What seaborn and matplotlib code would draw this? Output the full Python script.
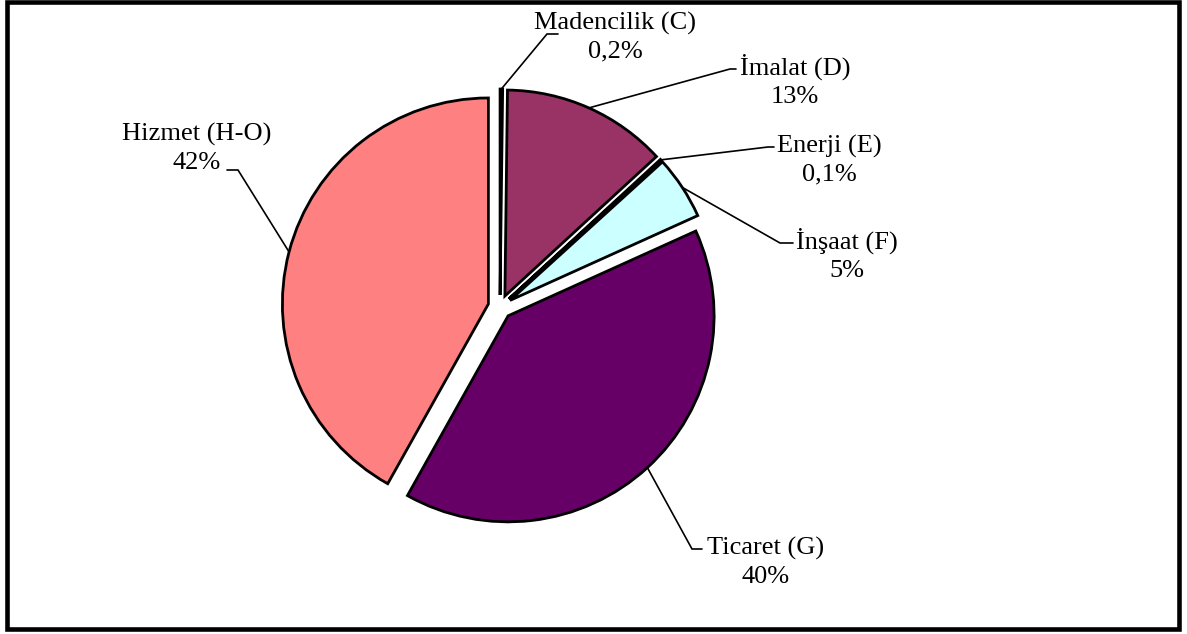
import math
import matplotlib
matplotlib.use("Agg")
import matplotlib.pyplot as plt
import matplotlib.patches as mpatches
import seaborn as sns

# Sector shares (%), drawn clockwise from 12 o'clock
sectors = ["Madencilik (C)", "İmalat (D)", "Enerji (E)", "İnşaat (F)", "Ticaret (G)", "Hizmet (H-O)"]
shares = [0.2, 13, 0.1, 5, 40, 42]
sector_colors = ["#9999FF", "#993366", "#FFFFCC", "#CCFFFF", "#660066", "#FF8080"]

W, H = 1187, 634

sns.set_theme(style="white")
plt.rcParams["font.family"] = ["Liberation Serif", "DejaVu Serif"]

fig = plt.figure(figsize=(W / 100, H / 100), dpi=100)
ax = fig.add_axes([0, 0, 1, 1])


def Y(y):
    """Convert a top-down pixel row into the axes' y coordinate."""
    return H - y


radius = 206
center = (500, Y(307))
wedges, _ = ax.pie(
    shares,
    colors=sns.color_palette(sector_colors),
    startangle=90,
    counterclock=False,
    radius=radius,
    center=center,
    explode=[12] * len(shares),
    wedgeprops=dict(edgecolor="black", linewidth=2.0, joinstyle="miter"),
)

# Label blocks (centre of text) and leader elbows / ends, in pixel rows
label_pos = [(615, 37), (795, 81), (829, 160), (847, 255), (766, 562), (197, 148)]
elbows = [(547, 34), (730, 69), (768, 147), (780, 243), (692, 549), (238, 170)]
ends = [(558, 34), (736, 69), (774, 147), (793, 243), (702, 549), (227, 170)]

for w, name, val, (tx, ty), (ex, ey), (nx, ny) in zip(
    wedges, sectors, shares, label_pos, elbows, ends
):
    mid = math.radians(0.5 * (w.theta1 + w.theta2))
    cx, cy = w.center
    ax_x = cx + w.r * math.cos(mid)
    ax_y = cy + w.r * math.sin(mid)
    ax.plot([ax_x, ex, nx], [ax_y, Y(ey), Y(ny)], color="black", lw=1.2,
            solid_joinstyle="miter", zorder=3)
    pct = f"{val:g}".replace(".", ",") + "%"
    ax.text(tx, Y(ty), f"{name}\n{pct}", ha="center", va="center",
            multialignment="center", fontsize=19, color="black",
            linespacing=1.35, zorder=4)

# Chart border
ax.add_patch(mpatches.Rectangle((7, Y(628.5)), 1179 - 7, 628.5 - 1.5,
                                fill=False, edgecolor="black", lw=3.3,
                                joinstyle="miter", zorder=5))

ax.set_xlim(0, W)
ax.set_ylim(0, H)
ax.set_aspect("equal")
ax.axis("off")

fig.savefig("out.png", dpi=100, facecolor="white")
